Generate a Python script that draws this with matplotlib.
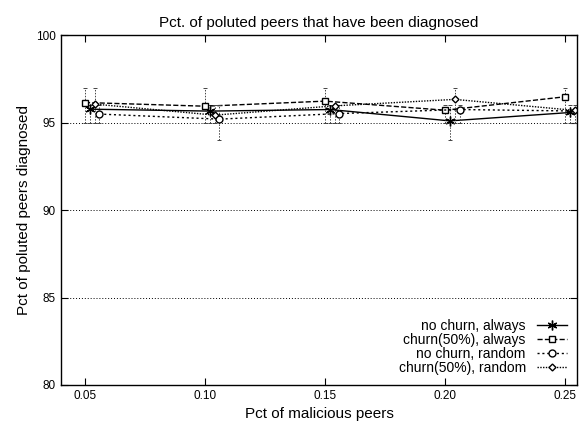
import numpy as np
import matplotlib
matplotlib.use('Agg')
import matplotlib.pyplot as plt

plt.rcParams['font.family'] = ['Liberation Sans', 'DejaVu Sans']

# malicious peer fraction
x = np.array([0.05, 0.10, 0.15, 0.20, 0.25])

# mean pct diagnosed and error bar bounds, per series
labels = ['no churn, always', 'churn(50%), always', 'no churn, random', 'churn(50%), random']
shift = [0.002, 0.0, 0.006, 0.004]
means = [
    [95.77, 95.66, 95.75, 95.10, 95.58],
    [96.15, 95.94, 96.23, 95.71, 96.48],
    [95.49, 95.20, 95.52, 95.75, 95.66],
    [96.06, 95.43, 95.96, 96.33, 95.70],
]
lows = [
    [95.0, 95.0, 95.0, 94.0, 95.0],
    [95.0, 95.0, 95.0, 95.0, 95.0],
    [95.0, 94.0, 95.0, 95.0, 95.0],
    [95.0, 95.0, 95.0, 95.0, 95.0],
]
highs = [
    [96.0, 96.0, 96.0, 96.0, 96.0],
    [97.0, 97.0, 97.0, 96.0, 97.0],
    [96.0, 96.0, 96.0, 96.0, 96.0],
    [97.0, 96.0, 96.0, 97.0, 96.0],
]
markers = [(6, 2, 0), 's', 'o', 'D']
lstyles = ['-', '--', (0, (1.5, 2)), (0, (1, 1))]
msizes = [7, 5, 5, 3.5]

fig = plt.figure(figsize=(5.86, 4.24), dpi=100)
ax = fig.add_axes([0.104, 0.092, 0.881, 0.825])

for i in range(4):
    xs = x + shift[i]
    m = np.array(means[i])
    err = [m - np.array(lows[i]), np.array(highs[i]) - m]
    _, caps, bars = ax.errorbar(xs, m, yerr=err, fmt='none', ecolor='#444444',
                                elinewidth=0.7, capsize=1.5, capthick=0.7)
    for b in bars:
        b.set_linestyle((0, (1.5, 1.5)))
    ax.plot(xs, m, color='black', linestyle=lstyles[i], linewidth=1,
            marker=markers[i], markersize=msizes[i], markerfacecolor='white',
            markeredgecolor='black', markeredgewidth=1, label=labels[i])

for yv in [85, 90, 95]:
    ax.axhline(yv, color='black', linestyle=(0, (1, 2)), linewidth=0.7, zorder=0)

ax.set_xlim(0.04, 0.255)
ax.set_ylim(80, 100)
ax.set_xticks(x)
ax.set_xticklabels(['0.05', '0.10', '0.15', '0.20', '0.25'])
ax.set_yticks([80, 85, 90, 95, 100])
ax.tick_params(direction='in', top=True, right=True, labelsize=8.5, length=5)
for s in ax.spines.values():
    s.set_linewidth(1)

ax.set_title('Pct. of poluted peers that have been diagnosed', fontsize=11)
ax.set_xlabel('Pct of malicious peers', fontsize=11)
ax.set_ylabel('Pct of poluted peers diagnosed', fontsize=11)

ax.legend(loc='lower right', frameon=False, markerfirst=False, fontsize=10,
          handlelength=2.2, labelspacing=0.0, borderaxespad=0.3)

fig.savefig('out.png', dpi=100)
